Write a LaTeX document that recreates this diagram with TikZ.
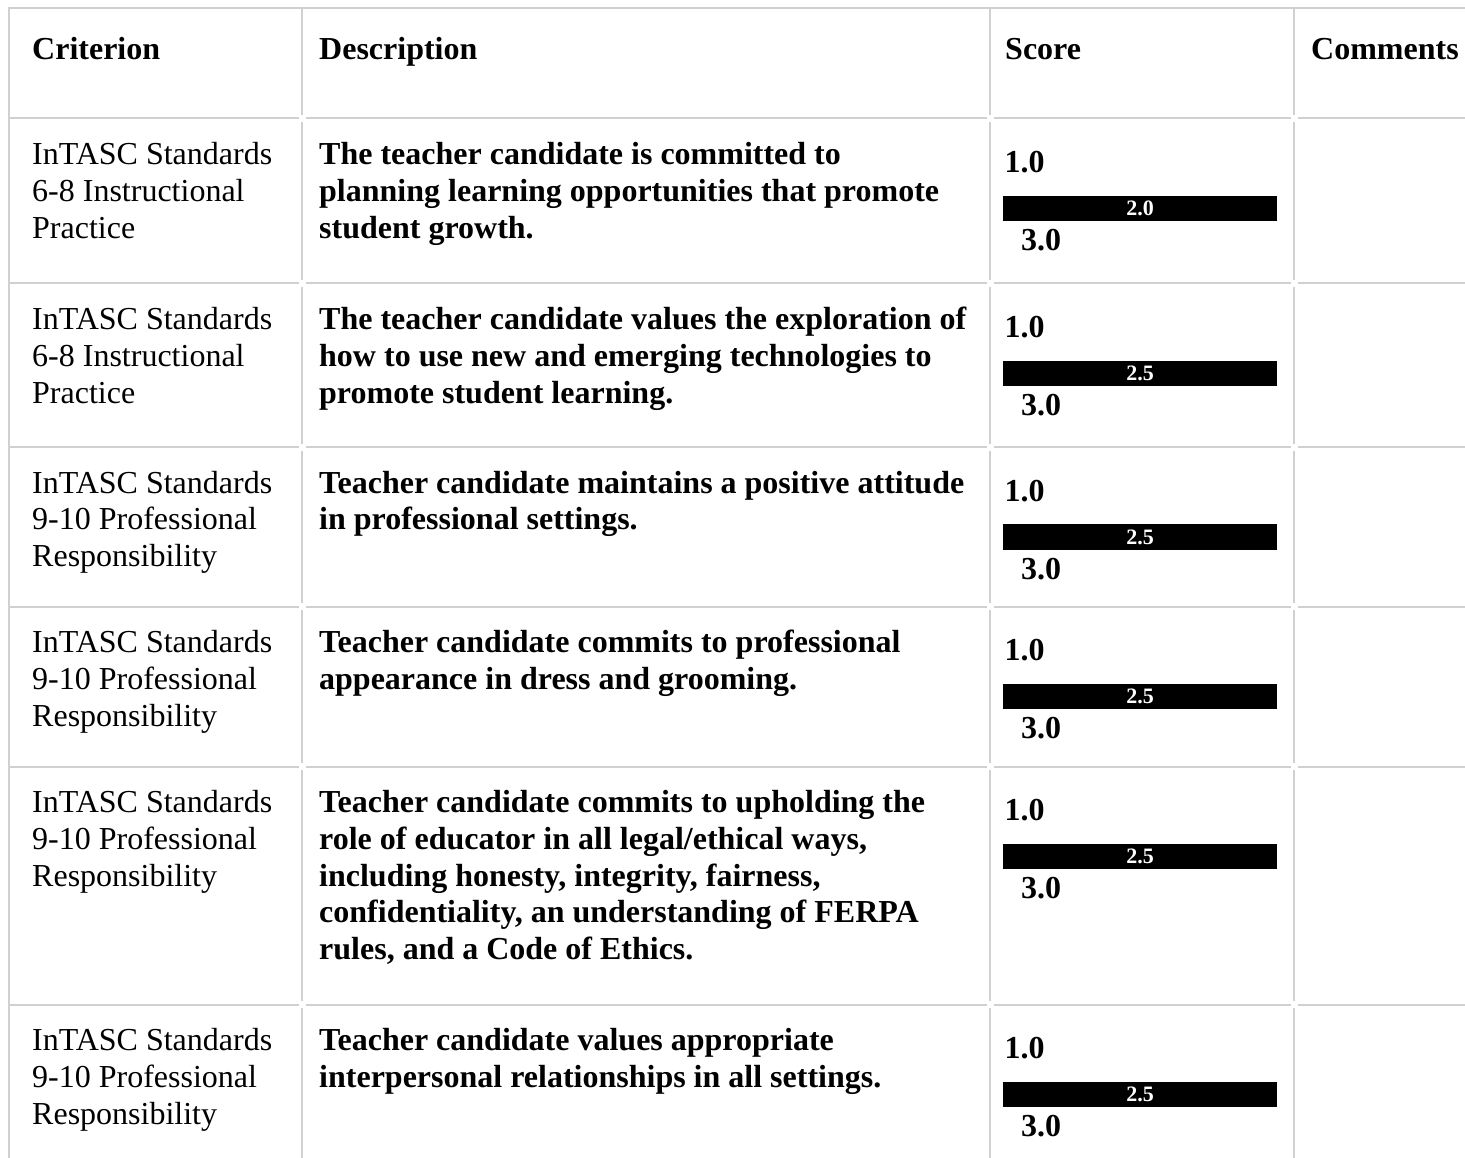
\documentclass[tikz,border=0pt]{standalone}
\usepackage{fontspec}
\setmainfont{Liberation Serif}
\definecolor{gridgray}{RGB}{208,208,204}
\tikzset{
  rule/.style={draw=gridgray, line width=2pt},
  txt/.style={anchor=base west, inner sep=0pt, font=\fontsize{32}{36.8}\selectfont},
  btxt/.style={anchor=base west, inner sep=0pt, font=\fontsize{32}{36.8}\selectfont\bfseries},
  barbox/.style={fill=black, draw=none, anchor=north west, inner sep=0pt, minimum width=274, minimum height=25.5},
  bartxt/.style={anchor=base, inner sep=0pt, text=white, font=\fontsize{22}{24}\selectfont\bfseries},
}
\newcommand\celllines[5]{% name, style, x, first baseline, list of lines
  \foreach \t [count=\i from 0] in {#5} {
    \node[#2] (#1-\i) at (#3, #4+\i*36.8) {\t};
  }
}
\newcommand\scoreblock[3]{% name, row line y, value
  \node[btxt] (#1-lo) at (1004.5, #2+54) {1.0};
  \node[barbox] (#1-bar) at (1003, #2+77) {};
  \node[bartxt] (#1-val) at (#1-bar.center |- 0, #2+97) {#3};
  \node[btxt] (#1-hi) at (1021, #2+132) {3.0};
}
\begin{document}
\begin{tikzpicture}[x=1pt,y=-1pt]
\useasboundingbox (0,0) rectangle (1465,1158);
\fill[white] (0,0) rectangle (1465,1158);

% outer border (top and left)
\draw[rule] (1465,8) -- (9,8) -- (9,1158);
% inner vertical lines at column boundaries
\foreach \X in {302,990,1294} {
  \draw[rule] (\X,8) -- (\X,115);
  \foreach \a/\b in {122/280, 287/443.5, 450.5/603, 610/763, 770/1001, 1008/1158}
    \draw[rule] (\X,\a) -- (\X,\b);
}
% inner horizontal lines at row boundaries
\foreach \Y in {118.5,283.5,447,606.5,766.5,1004.5} {
  \draw[rule] (9,\Y) -- (298.5,\Y);
  \draw[rule] (305.5,\Y) -- (986.5,\Y);
  \draw[rule] (993.5,\Y) -- (1290.5,\Y);
  \draw[rule] (1297.5,\Y) -- (1465,\Y);
}

% header
\node[btxt] (hcrit) at (32,60) {Criterion};
\node[btxt] (hdesc) at (319,60) {Description};
\node[btxt] (hscore) at (1005,60) {Score};
\node[btxt] (hcomm) at (1311,60) {Comments};

% row 1
\celllines{c1}{txt}{32}{164.5}{InTASC Standards,6-8 Instructional,Practice}
\celllines{d1}{btxt}{319}{164.5}{The teacher candidate is committed to,planning learning opportunities that promote,student growth.}
\scoreblock{s1}{118.5}{2.0}

% row 2
\celllines{c2}{txt}{32}{329.5}{InTASC Standards,6-8 Instructional,Practice}
\celllines{d2}{btxt}{319}{329.5}{The teacher candidate values the exploration of,how to use new and emerging technologies to,promote student learning.}
\scoreblock{s2}{283.5}{2.5}

% row 3
\celllines{c3}{txt}{32}{493}{InTASC Standards,9-10 Professional,Responsibility}
\celllines{d3}{btxt}{319}{493}{Teacher candidate maintains a positive attitude,in professional settings.}
\scoreblock{s3}{447}{2.5}

% row 4
\celllines{c4}{txt}{32}{652.5}{InTASC Standards,9-10 Professional,Responsibility}
\celllines{d4}{btxt}{319}{652.5}{Teacher candidate commits to professional,appearance in dress and grooming.}
\scoreblock{s4}{606.5}{2.5}

% row 5
\celllines{c5}{txt}{32}{812.5}{InTASC Standards,9-10 Professional,Responsibility}
\celllines{d5}{btxt}{319}{812.5}{Teacher candidate commits to upholding the,{role of educator in all legal/ethical ways,},{including honesty, integrity, fairness,},{confidentiality, an understanding of FERPA},{rules, and a Code of Ethics.}}
\scoreblock{s5}{766.5}{2.5}

% row 6
\celllines{c6}{txt}{32}{1050.5}{InTASC Standards,9-10 Professional,Responsibility}
\celllines{d6}{btxt}{319}{1050.5}{Teacher candidate values appropriate,interpersonal relationships in all settings.}
\scoreblock{s6}{1004.5}{2.5}
\end{tikzpicture}
\end{document}
